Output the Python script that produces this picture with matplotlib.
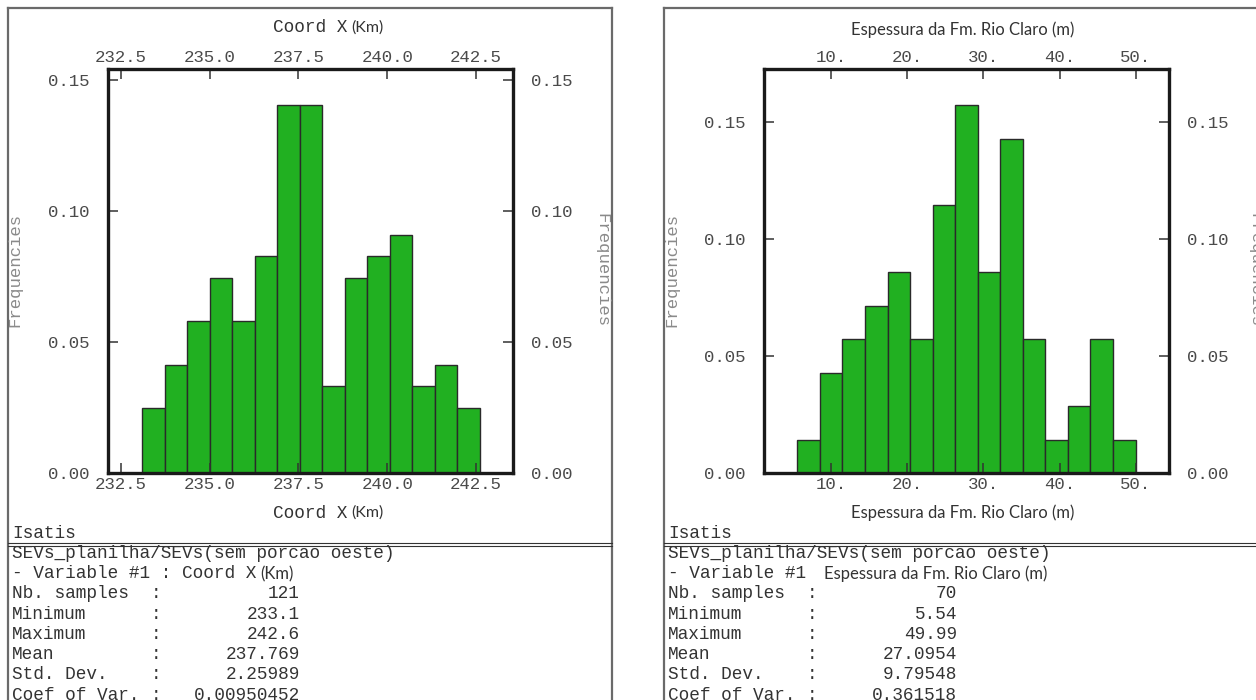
import numpy as np
import matplotlib.pyplot as plt
from matplotlib.lines import Line2D

W, H = 1256, 700
MONO = 'Liberation Mono'
SANS = 'Lato'
GREEN = '#21b021'
TICK_COLOR = '#4a4a4a'

# left histogram: Coord X (Km)
coordx_counts = [3, 5, 7, 9, 7, 10, 17, 17, 4, 9, 10, 11, 4, 5, 3]
coordx_min, coordx_max = 233.1, 242.6
coordx_ticks = [232.5, 235.0, 237.5, 240.0, 242.5]
coordx_tick_labels = ['232.5', '235.0', '237.5', '240.0', '242.5']
coordx_values = ['121', '233.1', '242.6', '237.769', '2.25989', '0.00950452']

# right histogram: Espessura da Fm. Rio Claro (m)
esp_counts = [1, 3, 4, 5, 6, 4, 8, 11, 6, 10, 4, 1, 2, 4, 1]
esp_min, esp_max = 5.54, 49.99
esp_ticks = [10, 20, 30, 40, 50]
esp_tick_labels = ['10.', '20.', '30.', '40.', '50.']
esp_values = ['70', '5.54', '49.99', '27.0954', '9.79548', '0.361518']

freq_ticks = [0.0, 0.05, 0.10, 0.15]
freq_tick_labels = ['0.00', '0.05', '0.10', '0.15']
stat_names = ['Nb. samples', 'Minimum', 'Maximum', 'Mean', 'Std. Dev.', 'Coef of Var.']
file_name = 'SEVs_planilha/SEVs(sem porcao oeste)'

TXT = 12.8


def fx(x):
    return x / W


def fy(y):
    return 1 - y / H


def vline(fig, x, y0, y1, **kw):
    fig.add_artist(Line2D([fx(x), fx(x)], [fy(y0), fy(y1)], transform=fig.transFigure, **kw))


def hline(fig, y, x0, x1, **kw):
    fig.add_artist(Line2D([fx(x0), fx(x1)], [fy(y), fy(y)], transform=fig.transFigure, **kw))


def two_font_text(fig, x, y, mono_part, sans_part, gap=4):
    t = fig.text(fx(x), fy(y), mono_part, family=MONO, fontsize=TXT, color='#333333',
                 ha='left', va='center')
    plt.annotate(sans_part, xy=(1, 0.5), xycoords=t, xytext=(gap, 0), textcoords='offset pixels',
                 family=SANS, fontsize=11.5, color='#333333', ha='left', va='center',
                 annotation_clip=False)


def histogram(fig, rect, counts, vmin, vmax, xlim, ylim, xticks, xlabels):
    ax = fig.add_axes(rect)
    freq = np.array(counts) / np.sum(counts)
    edges = np.linspace(vmin, vmax, len(counts) + 1)
    ax.bar(edges[:-1], freq, width=np.diff(edges), align='edge', color=GREEN,
           edgecolor='#2a2a2a', linewidth=1.0)
    ax.set_xlim(*xlim)
    ax.set_ylim(*ylim)
    ax.set_xticks(xticks)
    ax.set_xticklabels(xlabels)
    ax.set_yticks(freq_ticks)
    ax.set_yticklabels(freq_tick_labels)
    for s in ax.spines.values():
        s.set_linewidth(2.4)
        s.set_color('#1a1a1a')
    ax.tick_params(axis='both', direction='in', length=7, width=1.1, color='#333333',
                   top=True, right=True, labeltop=True, labelright=True,
                   labelsize=12.5, labelcolor=TICK_COLOR)
    ax.tick_params(axis='y', pad=13)
    ax.tick_params(axis='x', pad=3)
    for lab in ax.get_xticklabels() + ax.get_yticklabels():
        lab.set_family(MONO)
    return ax


def stats_block(fig, x0, colon_x, value_x, var_mono, var_sans, values, gap):
    fig.text(fx(x0), fy(533), 'Isatis', family=MONO, fontsize=TXT, color='#333333', va='center')
    fig.text(fx(x0), fy(553), file_name, family=MONO, fontsize=TXT, color='#333333', va='center')
    t = fig.text(fx(x0), fy(574), var_mono, family=MONO, fontsize=TXT, color='#333333',
                 ha='left', va='center')
    plt.annotate(var_sans, xy=(1, 0.5), xycoords=t, xytext=(gap, 0), textcoords='offset pixels',
                 family=SANS, fontsize=12, color='#333333', ha='left', va='center',
                 annotation_clip=False)
    for i, (name, val) in enumerate(zip(stat_names, values)):
        y = 594 + i * 20.2
        fig.text(fx(x0), fy(y), name, family=MONO, fontsize=TXT, color='#333333', va='center')
        fig.text(fx(colon_x), fy(y), ':', family=MONO, fontsize=TXT, color='#333333',
                 va='center', ha='center')
        fig.text(fx(value_x), fy(y), val, family=MONO, fontsize=TXT, color='#333333',
                 va='center', ha='right')


fig = plt.figure(figsize=(W / 100, H / 100), dpi=100)

# panel frames
frame = dict(color='#6a6a6a', linewidth=1.6)
vline(fig, 8, 8, 700, **frame)
vline(fig, 612, 8, 700, **frame)
hline(fig, 8, 8, 612, **frame)
vline(fig, 664, 8, 700, **frame)
hline(fig, 8, 664, 1256, **frame)
sep = dict(color='#333333', linewidth=0.8)
for y in (543, 546):
    hline(fig, y, 8, 612, **sep)
    hline(fig, y, 664, 1256, **sep)

# left chart
histogram(fig, [fx(108), fy(473), 405 / W, 404 / H], coordx_counts, coordx_min, coordx_max,
          (232.14, 243.54), (0, 0.1542), coordx_ticks, coordx_tick_labels)
for y in (28, 513):
    two_font_text(fig, 273, y, 'Coord X', '(Km)')
fig.text(fx(15), fy(270), 'Frequencies', family=MONO, fontsize=12.5, color='#8a8a8a',
         rotation=90, ha='center', va='center')
fig.text(fx(602), fy(270), 'Frequencies', family=MONO, fontsize=12.5, color='#8a8a8a',
         rotation=270, ha='center', va='center')
stats_block(fig, 12, 156, 300, '- Variable #1 : Coord X', '(Km)', coordx_values, 4)

# right chart
histogram(fig, [fx(764), fy(473), 405 / W, 404 / H], esp_counts, esp_min, esp_max,
          (1.16, 54.38), (0, 0.1726), esp_ticks, esp_tick_labels)
for y in (30, 513):
    fig.text(fx(963), fy(y), 'Espessura da Fm. Rio Claro (m)', family=SANS, fontsize=12,
             color='#333333', ha='center', va='center')
fig.text(fx(672), fy(270), 'Frequencies', family=MONO, fontsize=12.5, color='#8a8a8a',
         rotation=90, ha='center', va='center')
fig.text(fx(1255), fy(270), 'Frequencies', family=MONO, fontsize=12.5, color='#8a8a8a',
         rotation=270, ha='center', va='center')
stats_block(fig, 668, 812, 957, '- Variable #1', 'Espessura da Fm. Rio Claro (m)', esp_values, 18)

fig.savefig('out.png', dpi=100)
